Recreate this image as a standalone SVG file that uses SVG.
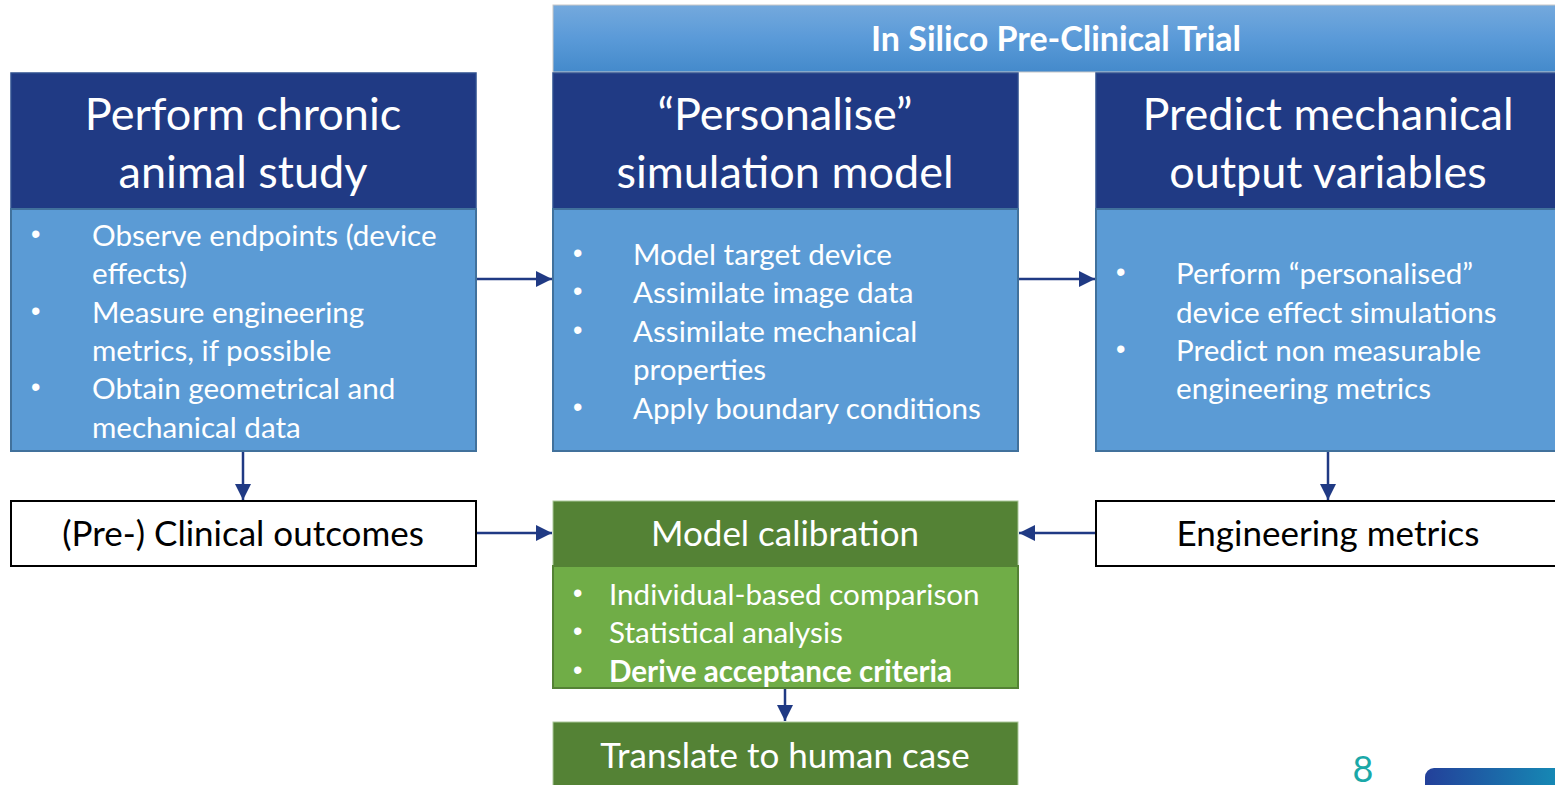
<svg xmlns="http://www.w3.org/2000/svg" width="1555" height="785" viewBox="0 0 1555 785">
<defs>
<linearGradient id="bannerGrad" x1="0" y1="0" x2="0" y2="1">
<stop offset="0" stop-color="#74a9dd"/>
<stop offset="0.5" stop-color="#5a9ad8"/>
<stop offset="1" stop-color="#448acb"/>
</linearGradient>
<linearGradient id="logoGrad" x1="0" y1="0" x2="1" y2="0">
<stop offset="0" stop-color="#23409a"/>
<stop offset="1" stop-color="#1493b8"/>
</linearGradient>
<marker id="arrow" viewBox="0 0 16 16" refX="16" refY="8" markerWidth="16" markerHeight="16" markerUnits="userSpaceOnUse" orient="auto">
<path d="M0,0 L16,8 L0,16 z" fill="#203a84"/>
</marker>
</defs>
<style>
.hdr{fill:#203a84;stroke:#2e4f8f;stroke-width:1.5}
.body{fill:#5b9bd5;stroke:#41719c;stroke-width:2}
.white{fill:#ffffff;stroke:#000000;stroke-width:2}
.ghdr{fill:#548235;stroke:#a9c79a;stroke-width:1}
.gbody{fill:#70ad47;stroke:#548235;stroke-width:2}
.ht{font-family:Lato,"Liberation Sans",sans-serif;font-size:45px;fill:#ffffff;text-anchor:middle}
.bt{font-family:Lato,"Liberation Sans",sans-serif;font-size:29.6px;fill:#ffffff}
.bl{font-family:"Liberation Sans",sans-serif;font-size:27px;fill:#ffffff}
.mt{font-family:Lato,"Liberation Sans",sans-serif;font-size:35px;text-anchor:middle}
.conn{stroke:#203a84;stroke-width:2.5;fill:none}
</style>
<rect width="1555" height="785" fill="#ffffff"/>

<g id="banner">
<rect x="553" y="5" width="1010" height="67" fill="url(#bannerGrad)" stroke="#c8c8c8" stroke-width="1"/>
<text x="1056" y="51" font-family="Lato,'Liberation Sans',sans-serif" font-size="34" font-weight="bold" fill="#ffffff" text-anchor="middle">In Silico Pre-Clinical Trial</text>
</g>

<g id="animal-study">
<rect class="hdr" x="11" y="73" width="465" height="136"/>
<text class="ht" x="243" y="130">Perform chronic</text>
<text class="ht" x="243" y="188">animal study</text>
<rect class="body" x="11" y="209" width="465" height="242"/>
<text class="bl" x="31" y="243">•</text>
<text class="bt" x="92" y="246">Observe endpoints (device</text>
<text class="bt" x="92" y="284">effects)</text>
<text class="bl" x="31" y="320">•</text>
<text class="bt" x="92" y="323">Measure engineering</text>
<text class="bt" x="92" y="361">metrics, if possible</text>
<text class="bl" x="31" y="396">•</text>
<text class="bt" x="92" y="399">Obtain geometrical and</text>
<text class="bt" x="92" y="438">mechanical data</text>
</g>

<g id="personalise">
<rect class="hdr" x="553" y="73" width="465" height="136"/>
<text class="ht" x="785" y="130">“Personalise”</text>
<text class="ht" x="785" y="188">simulation model</text>
<rect class="body" x="553" y="209" width="465" height="242"/>
<text class="bl" x="573" y="262">•</text>
<text class="bt" x="633" y="265">Model target device</text>
<text class="bl" x="573" y="300">•</text>
<text class="bt" x="633" y="303">Assimilate image data</text>
<text class="bl" x="573" y="339">•</text>
<text class="bt" x="633" y="342">Assimilate mechanical</text>
<text class="bt" x="633" y="380">properties</text>
<text class="bl" x="573" y="416">•</text>
<text class="bt" x="633" y="419">Apply boundary conditions</text>
</g>

<g id="predict">
<rect class="hdr" x="1096" y="73" width="470" height="136"/>
<text class="ht" x="1328" y="130">Predict mechanical</text>
<text class="ht" x="1328" y="188">output variables</text>
<rect class="body" x="1096" y="209" width="470" height="242"/>
<text class="bl" x="1116" y="281">•</text>
<text class="bt" x="1176" y="284">Perform “personalised”</text>
<text class="bt" x="1176" y="323">device effect simulations</text>
<text class="bl" x="1116" y="358">•</text>
<text class="bt" x="1176" y="361">Predict non measurable</text>
<text class="bt" x="1176" y="399">engineering metrics</text>
</g>

<g id="clinical-outcomes">
<rect class="white" x="11" y="501" width="465" height="65"/>
<text class="mt" x="243" y="546" fill="#000000">(Pre-) Clinical outcomes</text>
</g>

<g id="calibration">
<rect class="ghdr" x="553" y="501" width="465" height="65"/>
<text class="mt" x="785" y="546" fill="#ffffff">Model calibration</text>
<rect class="gbody" x="553" y="566" width="465" height="122"/>
<text class="bl" x="573" y="602">•</text>
<text class="bt" x="609" y="605">Individual-based comparison</text>
<text class="bl" x="573" y="640">•</text>
<text class="bt" x="609" y="643">Statistical analysis</text>
<text class="bl" x="573" y="679">•</text>
<text class="bt" x="609" y="682" font-weight="bold">Derive acceptance criteria</text>
</g>

<g id="engineering-metrics">
<rect class="white" x="1096" y="501" width="470" height="65"/>
<text class="mt" x="1328" y="546" fill="#000000">Engineering metrics</text>
</g>

<g id="translate">
<rect class="ghdr" x="553" y="722" width="465" height="70"/>
<text class="mt" x="785" y="768" fill="#ffffff">Translate to human case</text>
</g>

<g id="connectors">
<line class="conn" x1="477" y1="279" x2="552" y2="279" marker-end="url(#arrow)"/>
<line class="conn" x1="1019" y1="279" x2="1095" y2="279" marker-end="url(#arrow)"/>
<line class="conn" x1="243" y1="452" x2="243" y2="500" marker-end="url(#arrow)"/>
<line class="conn" x1="1328" y1="452" x2="1328" y2="500" marker-end="url(#arrow)"/>
<line class="conn" x1="477" y1="533" x2="552" y2="533" marker-end="url(#arrow)"/>
<line class="conn" x1="1095" y1="533" x2="1019" y2="533" marker-end="url(#arrow)"/>
<line class="conn" x1="785" y1="689" x2="785" y2="721" marker-end="url(#arrow)"/>
</g>

<g id="footer">
<text x="1363" y="782" font-family="Lato,'Liberation Sans',sans-serif" font-size="36" fill="#1aa8a8" text-anchor="middle">8</text>
<rect x="1425" y="768" width="150" height="30" rx="9" fill="url(#logoGrad)"/>
</g>
</svg>
